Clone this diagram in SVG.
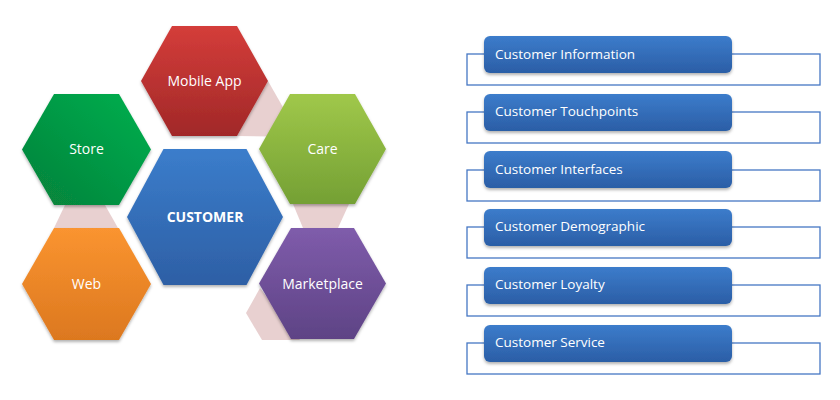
<svg xmlns="http://www.w3.org/2000/svg" width="840" height="400" viewBox="0 0 840 400">
<defs>
<linearGradient id="gRed" x1="0" y1="0" x2="0" y2="1"><stop offset="0" stop-color="#d43d3a"/><stop offset="1" stop-color="#a12828"/></linearGradient>
<linearGradient id="gGreen" x1="1" y1="0" x2="0" y2="1"><stop offset="0" stop-color="#00b04f"/><stop offset="1" stop-color="#08803a"/></linearGradient>
<linearGradient id="gLime" x1="0" y1="0" x2="0" y2="1"><stop offset="0" stop-color="#a0c84a"/><stop offset="1" stop-color="#74a034"/></linearGradient>
<linearGradient id="gBlue" x1="0" y1="0" x2="0" y2="1"><stop offset="0" stop-color="#3b7dcb"/><stop offset="1" stop-color="#2d5fa5"/></linearGradient>
<linearGradient id="gOrange" x1="0" y1="0" x2="0" y2="1"><stop offset="0" stop-color="#fa9430"/><stop offset="1" stop-color="#dc781f"/></linearGradient>
<linearGradient id="gPurple" x1="0" y1="0" x2="0" y2="1"><stop offset="0" stop-color="#7f5cab"/><stop offset="1" stop-color="#5e4385"/></linearGradient>
<linearGradient id="gBox" x1="0" y1="0" x2="0" y2="1"><stop offset="0" stop-color="#3c7ccb"/><stop offset="1" stop-color="#2b5ea6"/></linearGradient>
<filter id="sh" x="-10%" y="-10%" width="130%" height="140%"><feDropShadow dx="0" dy="2" stdDeviation="1.5" flood-color="#000" flood-opacity="0.3"/></filter>
</defs>
<style>
.hex{filter:url(#sh)}
.pink{fill:#e8d0d0}
.lbl{font-family:"Open Sans","Liberation Sans",sans-serif;font-size:14px;fill:#ffffff;text-anchor:middle;dominant-baseline:central}
.bold{font-weight:bold}
.outline{fill:none;stroke:#4577c4;stroke-width:1.3}
.box{fill:url(#gBox);filter:url(#sh)}
.btxt{font-family:"Open Sans","Liberation Sans",sans-serif;font-size:13.5px;fill:#ffffff;dominant-baseline:central}
</style>
<g id="connectors">
<polygon class="pink" points="268,81 300,137 237,136"/>
<polygon class="pink" points="65,205 105,205 118,228 54,228"/>
<polygon class="pink" points="293,204 349,204 338,228 303,228"/>
<polygon class="pink" points="260,288 246,313 262,340 300,340"/>
</g>
<g id="mobile-app"><polygon class="hex" fill="url(#gRed)" points="172,26 237,26 268,81 237,136 172,136 141,81"/><text class="lbl" x="204.5" y="80">Mobile App</text></g>
<g id="store"><polygon class="hex" fill="url(#gGreen)" points="54,94 119,94 151,149.5 119,205 54,205 22,149.5"/><text class="lbl" x="86.5" y="148">Store</text></g>
<g id="care"><polygon class="hex" fill="url(#gLime)" points="290,94 355,94 386,149 355,204 290,204 259,149"/><text class="lbl" x="322.5" y="148">Care</text></g>
<g id="customer"><polygon class="hex" fill="url(#gBlue)" points="163.5,149 246.5,149 283,217 246.5,285 163.5,285 127,217"/><text class="lbl bold" x="205" y="216">CUSTOMER</text></g>
<g id="web"><polygon class="hex" fill="url(#gOrange)" points="54,228 119,228 151,284 119,340 54,340 22,284"/><text class="lbl" x="86.5" y="283">Web</text></g>
<g id="marketplace"><polygon class="hex" fill="url(#gPurple)" points="291,228 354,228 386,283.5 354,339 291,339 259,283.5"/><text class="lbl" x="322.5" y="283">Marketplace</text></g>

<g id="item1"><rect class="outline" x="467" y="54" width="353" height="31"/><rect class="box" x="484" y="36" width="248" height="37" rx="6"/><text class="btxt" x="495" y="53.5">Customer Information</text></g>
<g id="item2"><rect class="outline" x="467" y="112" width="353" height="31"/><rect class="box" x="484" y="94" width="248" height="37" rx="6"/><text class="btxt" x="495" y="111">Customer Touchpoints</text></g>
<g id="item3"><rect class="outline" x="467" y="170" width="353" height="31"/><rect class="box" x="484" y="151" width="248" height="37" rx="6"/><text class="btxt" x="495" y="168.5">Customer Interfaces</text></g>
<g id="item4"><rect class="outline" x="467" y="227" width="353" height="31"/><rect class="box" x="484" y="209" width="248" height="37" rx="6"/><text class="btxt" x="495" y="226">Customer Demographic</text></g>
<g id="item5"><rect class="outline" x="467" y="285" width="353" height="31"/><rect class="box" x="484" y="267" width="248" height="37" rx="6"/><text class="btxt" x="495" y="284">Customer Loyalty</text></g>
<g id="item6"><rect class="outline" x="467" y="343" width="353" height="31"/><rect class="box" x="484" y="325" width="248" height="37" rx="6"/><text class="btxt" x="495" y="341.5">Customer Service</text></g>
</svg>
